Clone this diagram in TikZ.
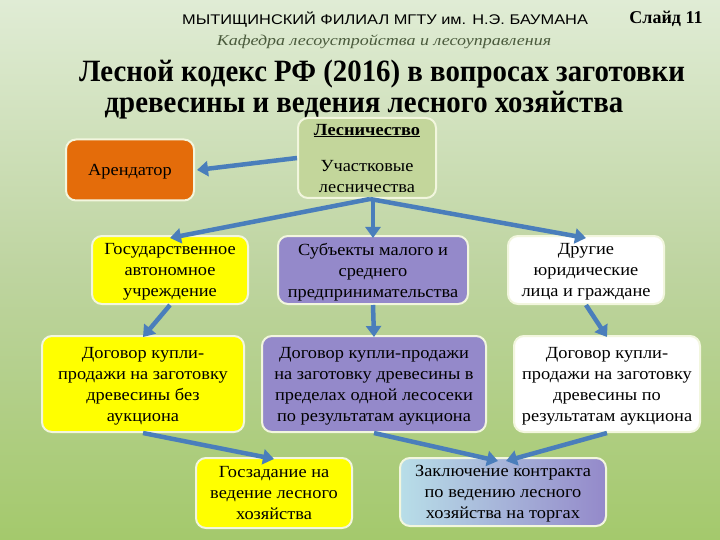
\documentclass[tikz,border=0pt]{standalone}
\usepackage{fontspec}
\setmainfont{Liberation Serif}
\newfontfamily\hdrsans[FakeStretch=1.17]{Liberation Sans}
\newfontfamily\kaffont[FakeStretch=1.2]{Liberation Serif}
\newfontfamily\boxfont[FakeStretch=1.08]{Liberation Serif}
\newfontfamily\ttlfont[FakeStretch=0.93]{Liberation Serif}
\usetikzlibrary{arrows.meta,calc}
\definecolor{bgtop}{RGB}{224,236,213}
\definecolor{bgbot}{RGB}{164,201,108}
\definecolor{orng}{RGB}{228,108,10}
\definecolor{olive}{RGB}{195,214,155}
\definecolor{ylw}{RGB}{255,255,0}
\definecolor{purp}{RGB}{148,137,202}
\definecolor{lblue}{RGB}{184,222,232}
\definecolor{arrc}{RGB}{74,126,187}
\definecolor{kaf}{RGB}{74,90,60}
\definecolor{bord}{RGB}{242,246,222}
\tikzset{
  box/.style={draw=bord, line width=2pt, rounded corners=10pt, align=center,
    font=\boxfont\fontsize{17}{21}\selectfont, text=black, inner sep=2pt, text depth=0pt},
  arr/.style={draw=arrc, line width=4.5pt, -{Triangle[width=15pt,length=11pt]}},
  ttl/.style={font=\ttlfont\bfseries\fontsize{31}{32}\selectfont}
}
\begin{document}
\begin{tikzpicture}[x=1pt,y=-1pt]
\shade[top color=bgtop, bottom color=bgbot, middle color={rgb,255:red,190;green,212;blue,160}] (0,0) rectangle (720,540);
\useasboundingbox (0,0) rectangle (720,540);
% header
\node[font=\hdrsans\fontsize{14}{16}\selectfont, anchor=center] (hdr) at (385,20) {МЫТИЩИНСКИЙ ФИЛИАЛ МГТУ им. Н.Э. БАУМАНА};
\node[font=\kaffont\itshape\fontsize{15}{16}\selectfont, text=kaf] (kafn) at (384,42) {Кафедра лесоустройства и лесоуправления};
\node[font=\bfseries\fontsize{18}{20}\selectfont] (sl) at (666,19) {Слайд 11};
\node[ttl] (ttl1) at (382,74) {Лесной кодекс РФ (2016) в вопросах заготовки};
\node[ttl] (ttl2) at (364,105) {древесины и ведения лесного хозяйства};
% nodes
\node[box, fill=orng, minimum width=128pt, minimum height=61pt] (ar) at (130,170) {Арендатор};
\node[box, fill=olive, minimum width=138pt, minimum height=80pt] (les) at (367,158)
  {\textbf{\underline{Лесничество}}\\[15pt]Участковые\\лесничества};
\node[box, fill=ylw, minimum width=156pt, minimum height=68pt] (gos) at (170,270)
  {Государственное\\автономное\\учреждение};
\node[box, fill=purp, minimum width=190pt, minimum height=68pt] (sub) at (373,270)
  {Субъекты малого и\\среднего\\предпринимательства};
\node[box, fill=white, minimum width=156pt, minimum height=68pt] (dru) at (586,270)
  {Другие\\юридические\\лица и граждане};
\node[box, fill=ylw, minimum width=202pt, minimum height=96pt] (d1) at (143,384)
  {Договор купли-\\продажи на заготовку\\древесины без\\аукциона};
\node[box, fill=purp, minimum width=224pt, minimum height=96pt] (d2) at (374,384)
  {Договор купли-продажи\\на заготовку древесины в\\пределах одной лесосеки\\по результатам аукциона};
\node[box, fill=white, minimum width=186pt, minimum height=96pt] (d3) at (607,384)
  {Договор купли-\\продажи на заготовку\\древесины по\\результатам аукциона};
\node[box, fill=ylw, minimum width=156pt, minimum height=70pt] (gz) at (274,493)
  {Госзадание на\\ведение лесного\\хозяйства};
\node[box, left color=lblue, right color=purp, minimum width=206pt, minimum height=68pt] (zk) at (503,492)
  {Заключение контракта\\по ведению лесного\\хозяйства на торгах};
% arrows
\draw[arr] (les.west) -- ([xshift=2pt]ar.east);
\draw[arr] ([xshift=3pt]les.south) -- ([yshift=-3pt]gos.north);
\draw[arr] ([xshift=3pt]les.south) -- ([yshift=-3pt]dru.north);
\draw[arr] (sub.north |- les.south) -- ([yshift=-3pt]sub.north);
\draw[arr] (gos.south) -- ([yshift=-2pt]d1.north);
\draw[arr] (sub.south) -- ([yshift=-2pt]d2.north);
\draw[arr] (dru.south) -- ([yshift=-2pt]d3.north);
\draw[arr] (d1.south) -- ([yshift=-2pt]gz.north);
\draw[arr] (d2.south) -- ([xshift=-5pt,yshift=-4pt]zk.north);
\draw[arr] (d3.south) -- ([xshift=3pt,yshift=-4pt]zk.north);
\end{tikzpicture}
\end{document}
